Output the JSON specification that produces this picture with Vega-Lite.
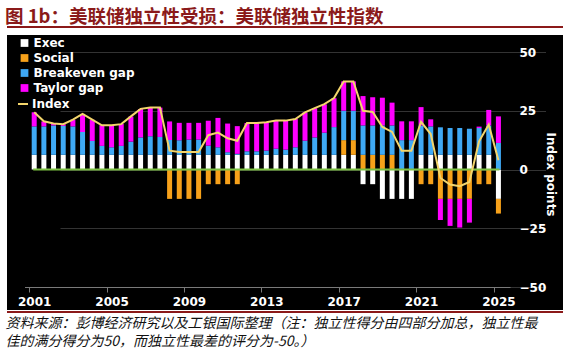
{
  "$schema": "https://vega.github.io/schema/vega-lite/v6.json",
  "width": 556,
  "height": 275,
  "autosize": {"type": "none"},
  "padding": {"left": 7, "top": 35, "right": 0, "bottom": 48},
  "background": "white",
  "view": {"fill": "black", "stroke": null},
  "config": {"font": "DejaVu Sans"},
  "title": {
    "text": "图 1b：美联储独立性受损：美联储独立性指数",
    "anchor": "start",
    "frame": "group",
    "font": "Noto Sans CJK SC",
    "fontSize": 18.5,
    "fontWeight": "bold",
    "color": "#8b1a1a",
    "offset": 0,
    "dx": -2
  },
  "data": {
    "values": [
      {"t": 2001.0, "Exec": 6.25, "Social": 0, "Breakeven gap": 12.1, "Taylor gap": 6.0, "Index": 24.4},
      {"t": 2001.5, "Exec": 6.25, "Social": 0, "Breakeven gap": 12.1, "Taylor gap": 2.1, "Index": 20.5},
      {"t": 2002.0, "Exec": 6.25, "Social": 0, "Breakeven gap": 12.5, "Taylor gap": 0.8, "Index": 19.6},
      {"t": 2002.5, "Exec": 6.25, "Social": 0, "Breakeven gap": 12.3, "Taylor gap": 0.7, "Index": 19.3},
      {"t": 2003.0, "Exec": 6.25, "Social": 0, "Breakeven gap": 12.1, "Taylor gap": 2.8, "Index": 21.2},
      {"t": 2003.5, "Exec": 6.25, "Social": 0, "Breakeven gap": 9.7, "Taylor gap": 7.7, "Index": 23.7},
      {"t": 2004.0, "Exec": 6.25, "Social": 0, "Breakeven gap": 5.9, "Taylor gap": 9.0, "Index": 21.2},
      {"t": 2004.5, "Exec": 6.25, "Social": 0, "Breakeven gap": 3.8, "Taylor gap": 8.8, "Index": 18.8},
      {"t": 2005.0, "Exec": 6.25, "Social": 0, "Breakeven gap": 3.2, "Taylor gap": 9.3, "Index": 18.8},
      {"t": 2005.5, "Exec": 6.25, "Social": 0, "Breakeven gap": 3.8, "Taylor gap": 9.3, "Index": 19.3},
      {"t": 2006.0, "Exec": 6.25, "Social": 0, "Breakeven gap": 5.6, "Taylor gap": 10.7, "Index": 22.6},
      {"t": 2006.5, "Exec": 6.25, "Social": 0, "Breakeven gap": 7.4, "Taylor gap": 12.1, "Index": 25.8},
      {"t": 2007.0, "Exec": 6.25, "Social": 0, "Breakeven gap": 7.9, "Taylor gap": 12.3, "Index": 26.4},
      {"t": 2007.5, "Exec": 6.25, "Social": 0, "Breakeven gap": 7.6, "Taylor gap": 12.5, "Index": 26.4},
      {"t": 2008.0, "Exec": 6.25, "Social": -12.5, "Breakeven gap": 6.3, "Taylor gap": 7.9, "Index": 8.0},
      {"t": 2008.5, "Exec": 6.25, "Social": -12.5, "Breakeven gap": 6.2, "Taylor gap": 7.4, "Index": 7.4},
      {"t": 2009.0, "Exec": 6.25, "Social": -12.5, "Breakeven gap": 6.5, "Taylor gap": 7.1, "Index": 7.4},
      {"t": 2009.5, "Exec": 6.25, "Social": -12.5, "Breakeven gap": 6.5, "Taylor gap": 7.1, "Index": 7.4},
      {"t": 2010.0, "Exec": 6.25, "Social": -6.25, "Breakeven gap": 3.9, "Taylor gap": 10.6, "Index": 14.6},
      {"t": 2010.5, "Exec": 6.25, "Social": -6.25, "Breakeven gap": 3.2, "Taylor gap": 12.5, "Index": 15.7},
      {"t": 2011.0, "Exec": 6.25, "Social": -6.25, "Breakeven gap": 1.1, "Taylor gap": 12.2, "Index": 13.3},
      {"t": 2011.5, "Exec": 6.25, "Social": -6.25, "Breakeven gap": 0.4, "Taylor gap": 11.8, "Index": 12.2},
      {"t": 2012.0, "Exec": 6.25, "Social": 0, "Breakeven gap": 1.5, "Taylor gap": 12.0, "Index": 19.8},
      {"t": 2012.5, "Exec": 6.25, "Social": 0, "Breakeven gap": 1.5, "Taylor gap": 12.0, "Index": 19.8},
      {"t": 2013.0, "Exec": 6.25, "Social": 0, "Breakeven gap": 1.8, "Taylor gap": 12.0, "Index": 20.1},
      {"t": 2013.5, "Exec": 6.25, "Social": 0, "Breakeven gap": 2.6, "Taylor gap": 11.9, "Index": 20.8},
      {"t": 2014.0, "Exec": 6.25, "Social": 0, "Breakeven gap": 2.2, "Taylor gap": 12.3, "Index": 20.8},
      {"t": 2014.5, "Exec": 6.25, "Social": 0, "Breakeven gap": 3.2, "Taylor gap": 12.0, "Index": 21.5},
      {"t": 2015.0, "Exec": 6.25, "Social": 0, "Breakeven gap": 6.0, "Taylor gap": 12.0, "Index": 24.3},
      {"t": 2015.5, "Exec": 6.25, "Social": 0, "Breakeven gap": 7.4, "Taylor gap": 12.4, "Index": 26.1},
      {"t": 2016.0, "Exec": 6.25, "Social": 0, "Breakeven gap": 9.4, "Taylor gap": 12.1, "Index": 27.8},
      {"t": 2016.5, "Exec": 6.25, "Social": 0, "Breakeven gap": 11.8, "Taylor gap": 12.3, "Index": 30.4},
      {"t": 2017.0, "Exec": 6.25, "Social": 6.25, "Breakeven gap": 12.5, "Taylor gap": 12.5, "Index": 37.5},
      {"t": 2017.5, "Exec": 6.25, "Social": 6.25, "Breakeven gap": 12.5, "Taylor gap": 12.5, "Index": 37.5},
      {"t": 2018.0, "Exec": -6.25, "Social": 6.25, "Breakeven gap": 12.5, "Taylor gap": 12.5, "Index": 25.0},
      {"t": 2018.5, "Exec": -6.25, "Social": 6.25, "Breakeven gap": 12.5, "Taylor gap": 12.0, "Index": 24.5},
      {"t": 2019.0, "Exec": -12.5, "Social": 6.25, "Breakeven gap": 12.5, "Taylor gap": 11.8, "Index": 18.1},
      {"t": 2019.5, "Exec": -12.5, "Social": 6.25, "Breakeven gap": 12.5, "Taylor gap": 9.7, "Index": 16.0},
      {"t": 2020.0, "Exec": -12.5, "Social": 0, "Breakeven gap": 12.5, "Taylor gap": 8.0, "Index": 8.0},
      {"t": 2020.5, "Exec": -12.5, "Social": 0, "Breakeven gap": 12.5, "Taylor gap": 8.0, "Index": 8.0},
      {"t": 2021.0, "Exec": 6.25, "Social": -6.25, "Breakeven gap": 12.5, "Taylor gap": 7.8, "Index": 20.3},
      {"t": 2021.5, "Exec": 6.25, "Social": -6.25, "Breakeven gap": 12.1, "Taylor gap": 3.0, "Index": 15.1},
      {"t": 2022.0, "Exec": 6.25, "Social": -12.5, "Breakeven gap": 11.7, "Taylor gap": -9.0, "Index": -3.6},
      {"t": 2022.5, "Exec": 6.25, "Social": -12.5, "Breakeven gap": 11.4, "Taylor gap": -11.5, "Index": -6.4},
      {"t": 2023.0, "Exec": 6.25, "Social": -12.5, "Breakeven gap": 11.4, "Taylor gap": -12.2, "Index": -7.1},
      {"t": 2023.5, "Exec": 6.25, "Social": -12.5, "Breakeven gap": 11.1, "Taylor gap": -10.1, "Index": -5.3},
      {"t": 2024.0, "Exec": 6.25, "Social": -6.25, "Breakeven gap": 11.4, "Taylor gap": 0.6, "Index": 12.0},
      {"t": 2024.5, "Exec": 6.25, "Social": -6.25, "Breakeven gap": 12.5, "Taylor gap": 6.6, "Index": 19.1},
      {"t": 2025.0, "Exec": -12.5, "Social": -6.25, "Breakeven gap": 11.3, "Taylor gap": 11.3, "Index": 3.9}
    ]
  },
  "layer": [
    {
      "transform": [
        {"fold": ["Exec", "Social", "Breakeven gap", "Taylor gap"], "as": ["series", "v"]},
        {"calculate": "indexof(['Exec', 'Social', 'Breakeven gap', 'Taylor gap'], datum.series)", "as": "stackOrder"}
      ],
      "mark": {"type": "bar", "size": 5},
      "encoding": {
        "x": {
          "field": "t",
          "type": "quantitative",
          "scale": {"domain": [2000.757, 2025.34], "range": [17.5, 503], "nice": false, "zero": false},
          "axis": {
            "values": [2001, 2005, 2009, 2013, 2017, 2021, 2025],
            "format": "d",
            "offset": -23,
            "grid": false,
            "domainColor": "#7a7a7a",
            "tickColor": "#7a7a7a",
            "tickSize": 5,
            "tickOffset": -4.9,
            "labelOffset": 4.9,
            "labelFlush": false,
            "labelPadding": 4,
            "labelColor": "white",
            "labelFont": "DejaVu Sans",
            "labelFontWeight": "bold",
            "labelFontSize": 12,
            "title": ["资料来源：彭博经济研究以及工银国际整理（注：独立性得分由四部分加总，独立性最", "佳的满分得分为50，而独立性最差的评分为-50。）"],
            "titleFont": "Noto Sans CJK SC",
            "titleFontStyle": "italic",
            "titleFontWeight": "normal",
            "titleFontSize": 14,
            "titleColor": "#111111",
            "titleAlign": "left",
            "titleBaseline": "top",
            "titleLineHeight": 18,
            "titleX": -2,
            "titleY": 29
          }
        },
        "y": {
          "field": "v",
          "type": "quantitative",
          "stack": "zero",
          "scale": {"domain": [-50, 50], "range": [252, 17], "nice": false, "zero": false},
          "axis": {
            "orient": "right",
            "values": [-50, -25, 0, 25, 50],
            "offset": -47,
            "ticks": false,
            "tickSize": 0,
            "domain": false,
            "grid": true,
            "gridColor": "#333333",
            "gridWidth": 1,
            "labelPadding": 3,
            "labelAlign": "left",
            "labelBaseline": "middle",
            "labelColor": "white",
            "labelFont": "DejaVu Sans",
            "labelFontWeight": "bold",
            "labelFontSize": 12,
            "title": "Index points",
            "titleColor": "white",
            "titleFont": "DejaVu Sans",
            "titleFontWeight": "bold",
            "titleFontSize": 12,
            "titleAngle": 90,
            "titleAlign": "center",
            "titleBaseline": "middle",
            "titleX": 34,
            "titleY": 139
          }
        },
        "order": {"field": "stackOrder", "type": "quantitative", "sort": "ascending"},
        "color": {
          "field": "series",
          "type": "nominal",
          "sort": ["Exec", "Social", "Breakeven gap", "Taylor gap"],
          "scale": {
            "domain": ["Exec", "Social", "Breakeven gap", "Taylor gap"],
            "range": ["#ffffff", "#f7a11a", "#3fa9f5", "#ff00ff"]
          },
          "legend": {
            "orient": "none",
            "legendX": 11.5,
            "legendY": 2,
            "title": null,
            "padding": 0,
            "symbolType": "square",
            "symbolSize": 60,
            "symbolStrokeWidth": 0,
            "labelColor": "white",
            "labelFont": "DejaVu Sans",
            "labelFontWeight": "bold",
            "labelFontSize": 12,
            "labelOffset": 3,
            "rowPadding": 3
          }
        }
      }
    },
    {
      "mark": {"type": "rule", "color": "#7dc242", "strokeWidth": 2, "strokeCap": "square"},
      "encoding": {
        "x": {"aggregate": "min", "field": "t", "type": "quantitative"},
        "x2": {"aggregate": "max", "field": "t"},
        "y": {"datum": 0, "type": "quantitative"}
      }
    },
    {
      "mark": {"type": "line", "strokeWidth": 2},
      "encoding": {
        "x": {"field": "t", "type": "quantitative"},
        "y": {"field": "Index", "type": "quantitative"},
        "stroke": {
          "datum": "Index",
          "scale": {"range": ["#f3d56c"]},
          "legend": {
            "orient": "none",
            "legendX": 10,
            "legendY": 63,
            "title": null,
            "padding": 0,
            "symbolType": "stroke",
            "symbolSize": 100,
            "symbolStrokeWidth": 2,
            "labelColor": "white",
            "labelFont": "DejaVu Sans",
            "labelFontWeight": "bold",
            "labelFontSize": 12,
            "labelOffset": 3
          }
        }
      }
    },
    {
      "mark": {"type": "rule", "color": "#8b1a1a", "strokeWidth": 1.5},
      "encoding": {"y": {"datum": 60.6, "type": "quantitative"}}
    },
    {
      "mark": {"type": "rule", "color": "#8b1a1a", "strokeWidth": 1.5},
      "encoding": {"y": {"datum": -60.6, "type": "quantitative"}}
    }
  ]
}
